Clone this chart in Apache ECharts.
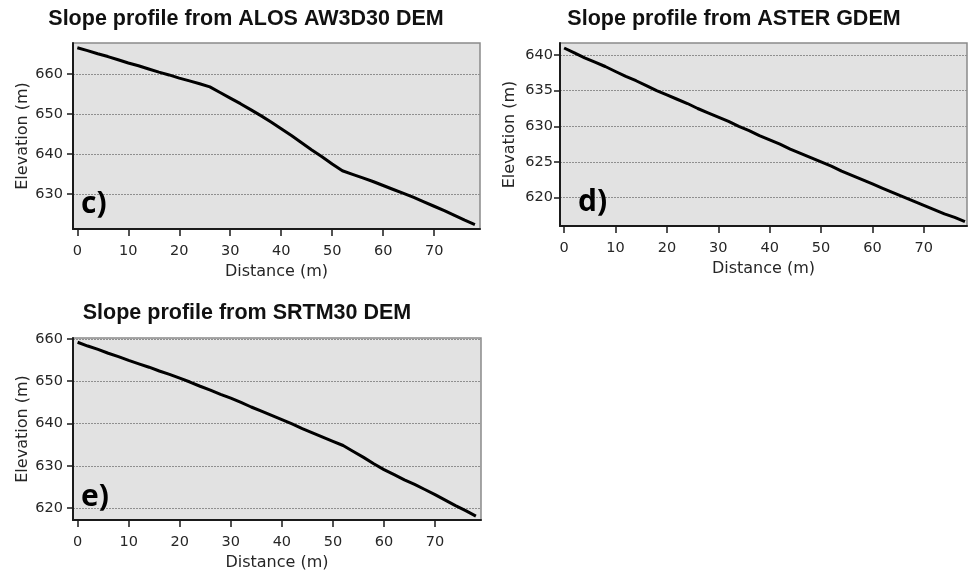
<!DOCTYPE html>
<html>
<head>
<meta charset="utf-8">
<script src="https://cdn.jsdelivr.net/npm/echarts@6/dist/echarts.min.js"></script>
<style>
html,body{margin:0;padding:0;background:#fff;}
#chart{width:968px;height:574px;}
</style>
</head>
<body>
<div id="chart"></div>
<script>
// ---- Data ----
const distC = [0,2,4,6,8,10,12,14,16,18,20,22,24,26,28,30,32,34,36,38,40,42,44,46,48,50,52,54,56,58,60,62,64,66,68,70,72,74,76,78];
const elevC = [666.6,665.9,665.1,664.4,663.6,662.8,662.1,661.3,660.5,659.8,659.0,658.3,657.6,656.8,655.4,654.0,652.6,651.1,649.6,648.0,646.3,644.6,642.8,641.0,639.3,637.5,635.8,634.9,634.0,633.1,632.1,631.1,630.1,629.1,628.0,626.9,625.8,624.6,623.4,622.3];

const distD = [0,2,4,6,8,10,12,14,16,18,20,22,24,26,28,30,32,34,36,38,40,42,44,46,48,50,52,54,56,58,60,62,64,66,68,70,72,74,76,78];
const elevD = [641.0,640.3,639.6,639.0,638.4,637.7,637.0,636.4,635.7,635.0,634.4,633.8,633.2,632.5,631.9,631.3,630.7,630.0,629.4,628.7,628.1,627.5,626.8,626.2,625.6,625.0,624.4,623.7,623.1,622.5,621.9,621.3,620.7,620.1,619.5,618.9,618.3,617.7,617.2,616.6];

const distE = [0,2,4,6,8,10,12,14,16,18,20,22,24,26,28,30,32,34,36,38,40,42,44,46,48,50,52,54,56,58,60,62,64,66,68,70,72,74,76,78];
const elevE = [659.2,658.3,657.5,656.6,655.8,654.9,654.1,653.3,652.4,651.6,650.7,649.8,648.8,647.9,646.9,646.0,645.0,643.9,642.9,641.9,640.9,639.9,638.8,637.8,636.8,635.8,634.8,633.4,632.0,630.5,629.1,627.9,626.7,625.6,624.4,623.2,621.9,620.6,619.4,618.1];

const xTicks = [0,10,20,30,40,50,60,70];
const yTicksC = [630,640,650,660];
const yTicksD = [620,625,630,635,640];
const yTicksE = [620,630,640,650,660];

const titles = ['Slope profile from ALOS AW3D30 DEM','Slope profile from ASTER GDEM','Slope profile from SRTM30 DEM'];
const panelLabels = ['c)','d)','e)'];
const xName = 'Distance (m)';
const yName = 'Elevation (m)';

// ---- Layout ----
const grids = [
  {left:73, top:43, width:407, height:186},
  {left:560, top:43, width:407, height:183},
  {left:73, top:338, width:408, height:182}
];
const xRanges = [[-0.85,79],[-0.8,78.4],[-0.9,79]];
const yRanges = [[621.2,667.8],[616.0,641.7],[617.2,660.2]];
const yTickSets = [yTicksC, yTicksD, yTicksE];
const yLabelMargins = [10,7,10];
const series = [[distC,elevC],[distD,elevD],[distE,elevE]];

const tickFont = {fontFamily:'DejaVu Sans', fontSize:14.5, color:'#262626'};
const nameFont = {fontFamily:'DejaVu Sans', fontSize:16, color:'#262626'};

const option = {
  backgroundColor:'#ffffff',
  animation:false,
  grid: grids.map(g => Object.assign({show:true, backgroundColor:'#e2e2e2', borderColor:'#8a8a8a', borderWidth:1.5, containLabel:false}, g)),
  xAxis: grids.map((g,i) => ({
    type:'value', gridIndex:i, min:xRanges[i][0], max:xRanges[i][1],
    name:xName, nameLocation:'middle', nameGap:35,
    nameTextStyle:nameFont,
    axisLine:{show:true, onZero:false, lineStyle:{color:'#1a1a1a', width:2}},
    axisTick:{show:true, length:7, lineStyle:{color:'#1a1a1a', width:1.5}, customValues:xTicks},
    axisLabel:Object.assign({margin:15, customValues:xTicks}, tickFont),
    splitLine:{show:false}
  })),
  yAxis: grids.map((g,i) => ({
    type:'value', gridIndex:i, min:yRanges[i][0], max:yRanges[i][1],
    name:yName, nameLocation:'middle', nameGap:42,
    nameTextStyle:nameFont,
    axisLine:{show:true, onZero:false, lineStyle:{color:'#1a1a1a', width:2}},
    axisTick:{show:true, length:6, lineStyle:{color:'#1a1a1a', width:1.5}, customValues:yTickSets[i]},
    axisLabel:Object.assign({margin:yLabelMargins[i], customValues:yTickSets[i]}, tickFont),
    splitLine:{show:true, lineStyle:{color:'#8f8f8f', width:1, type:[2,1]}}
  })),
  series: series.map((s,i) => ({
    type:'line', xAxisIndex:i, yAxisIndex:i,
    data: s[0].map((d,k) => [d, s[1][k]]),
    showSymbol:false, symbol:'none',
    lineStyle:{color:'#000', width:3},
    z:5
  })),
  graphic: [
    {type:'text', style:{text:titles[0], x:246, y:19, textAlign:'center', textVerticalAlign:'middle', font:'bold 21.5px "Liberation Sans", Arial', fill:'#111'}},
    {type:'text', style:{text:titles[1], x:734, y:19, textAlign:'center', textVerticalAlign:'middle', font:'bold 21.5px "Liberation Sans", Arial', fill:'#111'}},
    {type:'text', style:{text:titles[2], x:247, y:313, textAlign:'center', textVerticalAlign:'middle', font:'bold 21.5px "Liberation Sans", Arial', fill:'#111'}},
    {type:'text', z:10, style:{text:panelLabels[0], x:81, y:204, textAlign:'left', textVerticalAlign:'middle', font:'bold 30px "Open Sans", Lato', fill:'#000'}},
    {type:'text', z:10, style:{text:panelLabels[1], x:578, y:202, textAlign:'left', textVerticalAlign:'middle', font:'bold 30px "Open Sans", Lato', fill:'#000'}},
    {type:'text', z:10, style:{text:panelLabels[2], x:81, y:497, textAlign:'left', textVerticalAlign:'middle', font:'bold 30px "Open Sans", Lato', fill:'#000'}}
  ]
};

const chart = echarts.init(document.getElementById('chart'), null, {renderer:'canvas'});
chart.setOption(option);
</script>
</body>
</html>
